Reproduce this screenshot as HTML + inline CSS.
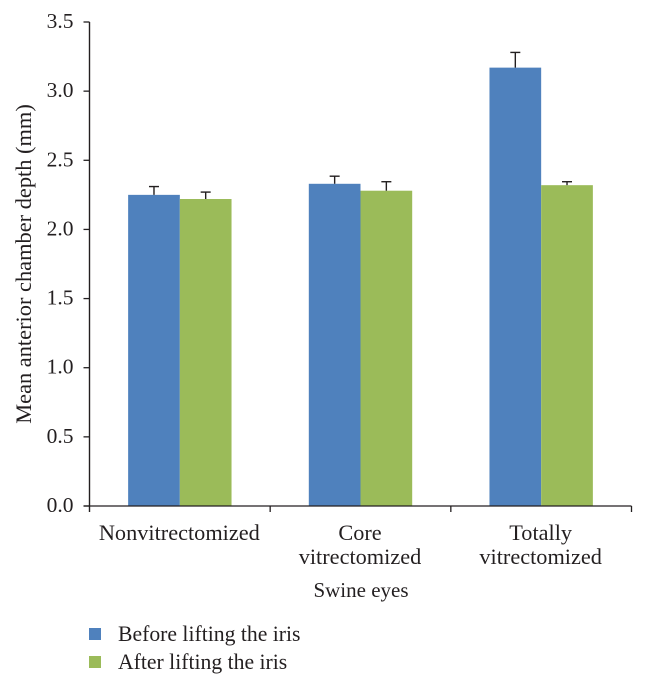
<!DOCTYPE html>
<html>
<head>
<meta charset="utf-8">
<style>
html,body{margin:0;padding:0;background:#fff;width:646px;height:688px;overflow:hidden}
svg{display:block}
text{font-family:"Liberation Serif",serif;fill:#231f20;font-size:22px}
</style>
</head>
<body>
<svg id="chart" width="646" height="688" viewBox="0 0 646 688" xmlns="http://www.w3.org/2000/svg"></svg>
<script>
const categories = [["Nonvitrectomized"], ["Core", "vitrectomized"], ["Totally", "vitrectomized"]];
const categoryKeys = ["nonvitrectomized", "core-vitrectomized", "totally-vitrectomized"];
const seriesNames = ["Before lifting the iris", "After lifting the iris"];
const beforeValues = [2.25, 2.33, 3.17];
const afterValues = [2.22, 2.28, 2.32];
const beforeErrors = [0.06, 0.055, 0.11];
const afterErrors = [0.05, 0.065, 0.025];
const yTicks = [0, 0.5, 1, 1.5, 2, 2.5, 3, 3.5];
const yTickLabels = ["0.0", "0.5", "1.0", "1.5", "2.0", "2.5", "3.0", "3.5"];

const svg = document.getElementById('chart');
const NS = 'http://www.w3.org/2000/svg';
const left = 89.5, right = 631.5, top0 = 22, bottom = 506, yMax = 3.5;
const barW = 51.7, axisColor = '#231f20';
const colors = ['#4f81bd', '#9bbb59'];
const yScale = v => bottom - (v / yMax) * (bottom - top0);
const catW = () => (right - left) / categories.length;
const xCenter = i => left + catW() * (i + 0.5);

function mk(tag, attrs, parent) {
  const el = document.createElementNS(NS, tag);
  for (const k in attrs) el.setAttribute(k, attrs[k]);
  (parent || svg).appendChild(el);
  return el;
}

yTicks.forEach((t, i) => {
  const tick = mk('line', {x1: left - 6, x2: left, y1: yScale(t), y2: yScale(t), stroke: axisColor, 'stroke-width': 1.3});
  
  
  const label = mk('text', {x: left - 16, y: yScale(t) + 6, 'text-anchor': 'end', 'font-size': 21.5, style: 'font-size:21.5px'});
  label.textContent = yTickLabels[i];
  
  
});

[beforeValues, afterValues].forEach((vals, s) => {
  const errs = s === 0 ? beforeErrors : afterErrors;
  vals.forEach((v, i) => {
    const x = xCenter(i) + (s === 0 ? -barW : 0);
    const bar = mk('rect', {x: x, y: yScale(v), width: barW, height: bottom - yScale(v), fill: colors[s]});
    
    
    const cx = x + barW / 2, yt = yScale(v + errs[i]);
    const g = mk('g', {stroke: axisColor, 'stroke-width': 1.4});
    
    
    mk('line', {x1: cx, x2: cx, y1: yScale(v), y2: yt}, g);
    mk('line', {x1: cx - 5, x2: cx + 5, y1: yt, y2: yt}, g);
  });
});

const yAxis = mk('line', {x1: left, x2: left, y1: top0, y2: bottom + 6, stroke: axisColor, 'stroke-width': 1.4});


const xAxis = mk('line', {x1: left - 6, x2: right, y1: bottom, y2: bottom, stroke: axisColor, 'stroke-width': 1.3});



categories.forEach((lines, i) => {
  const tick = mk('line', {x1: left + catW() * (i + 1), x2: left + catW() * (i + 1), y1: bottom, y2: bottom + 6, stroke: axisColor, 'stroke-width': 1.3});
  
  
  lines.forEach((line, j) => {
    const label = mk('text', {x: xCenter(i) - 0.5, y: 540 + j * 24, 'text-anchor': 'middle', style: 'font-size:22.3px'});
    label.textContent = line;
    
    
  });
});

const xTitle = mk('text', {x: 361, y: 597, 'text-anchor': 'middle', style: 'font-size:21px'});
xTitle.textContent = 'Swine eyes';



const yTitle = mk('text', {x: 0, y: 0, 'text-anchor': 'middle', transform: 'translate(31,264) rotate(-90)', style: 'font-size:22.4px'});
yTitle.textContent = 'Mean anterior chamber depth (mm)';



seriesNames.forEach((name, s) => {
  const y = 634 + s * 28;
  const g = mk('g', {});
  
  
  mk('rect', {x: 89, y: y - 6, width: 12, height: 12, fill: colors[s]}, g);
  const t = mk('text', {x: 118, y: y + 7, style: 'font-size:21.7px'}, g);
  t.textContent = name;
});
</script>
</body>
</html>
